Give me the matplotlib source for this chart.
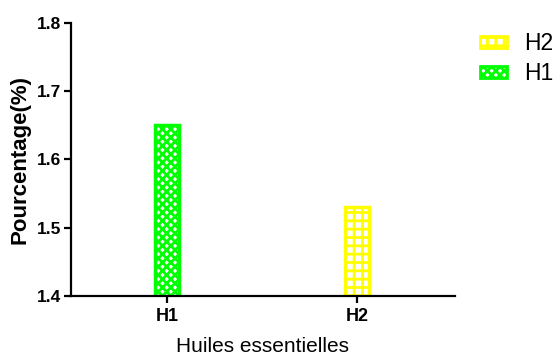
import matplotlib
matplotlib.use("Agg")
import matplotlib.pyplot as plt
from matplotlib.patches import Patch

plt.rcParams['font.family'] = ['Liberation Sans', 'DejaVu Sans']
plt.rcParams['hatch.linewidth'] = 2.0

categories = ["H1", "H2"]
values = [1.65, 1.53]
colors = ["#00ff00", "#ffff00"]
hatches = ["xxxx", "++"]
yticks = [1.4, 1.5, 1.6, 1.7, 1.8]

fig = plt.figure(figsize=(5.56, 3.57), dpi=100)
ax = fig.add_axes([0.128, 0.171, 0.69, 0.765])

x = list(range(len(categories)))
for xi, v, c, h in zip(x, values, colors, hatches):
    ax.bar(xi, v - 1.4, bottom=1.4, width=0.13, facecolor="white",
           edgecolor=c, hatch=h, linewidth=2.5)

ax.set_xlim(-0.505, 1.516)
ax.set_ylim(1.4, 1.8)
ax.set_yticks(yticks)
ax.set_yticklabels([f"{t:.1f}" for t in yticks], fontsize=12.5, fontweight='bold')
ax.set_xticks(x)
ax.set_xticklabels(categories, fontsize=13, fontweight='bold')
ax.spines['top'].set_visible(False)
ax.spines['right'].set_visible(False)
for s in ['left', 'bottom']:
    ax.spines[s].set_linewidth(1.6)
ax.tick_params(width=1.6, length=5)
ax.tick_params(axis='y', pad=2)
ax.set_ylabel("Pourcentage(%)", fontsize=16, fontweight='bold', labelpad=5)
ax.set_xlabel("Huiles essentielles", fontsize=15, labelpad=9)

handles = [Patch(facecolor="white", edgecolor=colors[1], hatch=hatches[1], linewidth=2.0,
                 joinstyle='round', label="H2"),
           Patch(facecolor="white", edgecolor=colors[0], hatch=hatches[0], linewidth=2.0,
                 joinstyle='round', label="H1")]
fig.legend(handles=handles, loc='upper left', bbox_to_anchor=(0.863, 0.91),
           frameon=False, fontsize=16.5, handlelength=1.17, handleheight=0.45,
           labelspacing=0.3, handletextpad=0.75, borderpad=0, borderaxespad=0)

fig.savefig("out.png", dpi=100)
